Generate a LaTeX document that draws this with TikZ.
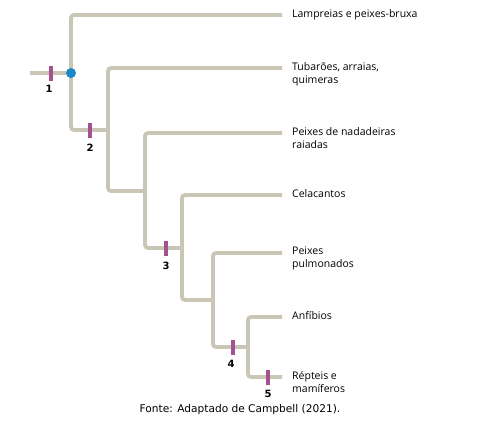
\documentclass[tikz,border=0pt]{standalone}
\usepackage{fontspec}
\setmainfont{Open Sans}
\newfontfamily\verdanaish{DejaVu Sans}
\usepackage{tikz}
\usetikzlibrary{positioning, calc}
\definecolor{galho}{HTML}{C9C6B6}
\definecolor{marcador}{HTML}{A3518F}
\definecolor{azulno}{HTML}{1B88C8}
\tikzset{
  ramo/.style={line width=3.8pt, color=galho, rounded corners=3pt},
  marca/.style={rectangle, fill=marcador, inner sep=0pt,
    minimum width=3.5pt, minimum height=15pt},
  num/.style={font=\verdanaish\bfseries\fontsize{10}{12}\selectfont, inner sep=0pt},
  taxon/.style={font=\fontsize{10.5}{13}\selectfont, align=left,
    anchor=north west, inner sep=0pt},
  nodo/.style={circle, fill=azulno, inner sep=0pt, minimum size=10pt},
  fonte/.style={font=\verdanaish\fontsize{10.6}{12}\selectfont}
}
\begin{document}
\begin{tikzpicture}[x=1pt, y=-1pt]
    \useasboundingbox (0,0) rectangle (499,426);

    % Pontos de ramificacao
    \coordinate (raiz) at (30,73);
    \coordinate (n1) at (71,73);
    \coordinate (n2) at (108,130);
    \coordinate (n3) at (145,191);
    \coordinate (n4) at (182,248);
    \coordinate (n5) at (213,300);
    \coordinate (n6) at (248,347);

    % Pontas dos ramos
    \coordinate (p1) at (282,15);
    \coordinate (p2) at (282,68);
    \coordinate (p3) at (282,133);
    \coordinate (p4) at (282,195);
    \coordinate (p5) at (282,253);
    \coordinate (p6) at (282,317);
    \coordinate (p7) at (282,377);

    % Ramos
    \draw[ramo] (raiz) -- (n1);
    \draw[ramo] (n1) |- (p1);
    \draw[ramo] (n1) |- (n2);
    \draw[ramo] (n2) |- (p2);
    \draw[ramo] (n2) |- (n3);
    \draw[ramo] (n3) |- (p3);
    \draw[ramo] (n3) |- (n4);
    \draw[ramo] (n4) |- (p4);
    \draw[ramo] (n4) |- (n5);
    \draw[ramo] (n5) |- (p5);
    \draw[ramo] (n5) |- (n6);
    \draw[ramo] (n6) |- (p6);
    \draw[ramo] (n6) |- (p7);

    \node[nodo] (no1) at (n1) {};

    % Caracteres derivados
    \node[marca] (m1) at (51,73) {};
    \node[marca] (m2) at (90,130) {};
    \node[marca] (m3) at (166,248) {};
    \node[marca] (m4) at (233,347) {};
    \node[marca] (m5) at (268,377) {};
    \node[num, below=4pt of m1, xshift=-2pt] (c1) {1};
    \node[num, below=6pt of m2] (c2) {2};
    \node[num, below=6pt of m3] (c3) {3};
    \node[num, below=5pt of m4, xshift=-2pt] (c4) {4};
    \node[num, below=5pt of m5] (c5) {5};

    % Grupos
    \node[taxon] (g1) at ([xshift=10pt, yshift=6pt]p1) {Lampreias e peixes-bruxa};
    \node[taxon] (g2) at ([xshift=10pt, yshift=6pt]p2) {Tubarões, arraias,\\quimeras};
    \node[taxon] (g3) at ([xshift=10pt, yshift=6pt]p3) {Peixes de nadadeiras\\raiadas};
    \node[taxon] (g4) at ([xshift=10pt, yshift=6pt]p4) {Celacantos};
    \node[taxon] (g5) at ([xshift=10pt, yshift=6pt]p5) {Peixes\\pulmonados};
    \node[taxon] (g6) at ([xshift=10pt, yshift=6pt]p6) {Anfíbios};
    \node[taxon] (g7) at ([xshift=10pt, yshift=6pt]p7) {Répteis e\\mamíferos};

    \node[fonte] (legenda) at (240,410) {Fonte: Adaptado de Campbell (2021).};
\end{tikzpicture}
\end{document}
